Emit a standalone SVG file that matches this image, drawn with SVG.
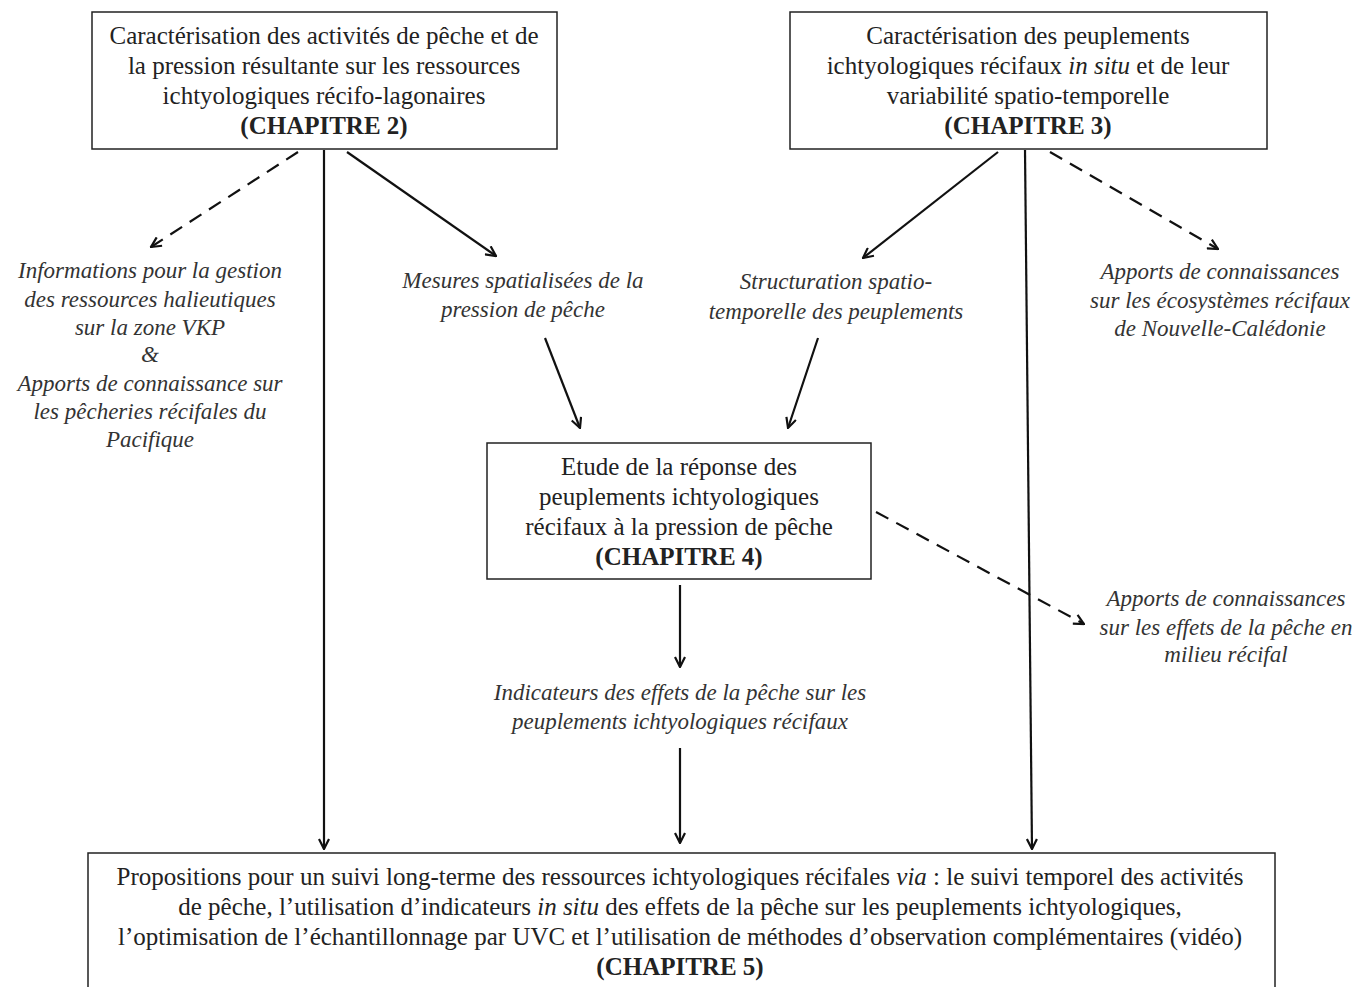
<svg xmlns="http://www.w3.org/2000/svg" width="1355" height="987" viewBox="0 0 1355 987">
<style>
.box{fill:#fff;stroke:#222;stroke-width:1.5}
.t{font-family:"Liberation Serif","Times New Roman",serif;font-size:25px;fill:#222;text-anchor:middle}
.b{font-weight:bold}
.i{font-family:"Liberation Serif","Times New Roman",serif;font-style:italic;font-size:23px;fill:#333;text-anchor:middle}
.c{stroke:#111;stroke-width:2.2;fill:none;marker-end:url(#ah)}
.d{stroke-dasharray:14 9}
</style>
<defs>
<marker id="ah" viewBox="0 0 12 12" refX="11" refY="6" markerWidth="12" markerHeight="12" markerUnits="userSpaceOnUse" orient="auto">
<path d="M1,1 L11,6 L1,11" fill="none" stroke="#111" stroke-width="2.2"/>
</marker>
</defs>
<rect width="1355" height="987" fill="#fff"/>
<g id="connectors">
<line class="c d" x1="298" y1="152" x2="151" y2="247"/>
<line class="c" x1="324" y1="150" x2="324" y2="849"/>
<line class="c" x1="347" y1="152" x2="496" y2="256"/>
<line class="c" x1="998" y1="152" x2="863" y2="258"/>
<line class="c" x1="1025" y1="150" x2="1032" y2="849"/>
<line class="c d" x1="1050" y1="152" x2="1218" y2="249"/>
<line class="c" x1="545" y1="338" x2="580" y2="428"/>
<line class="c" x1="818" y1="338" x2="788" y2="428"/>
<line class="c" x1="680" y1="585" x2="680" y2="667"/>
<line class="c d" x1="876" y1="512" x2="1084" y2="624"/>
<line class="c" x1="680" y1="748" x2="680" y2="843"/>
</g>
<g id="ch2">
<rect class="box" x="92" y="12" width="465" height="137"/>
<text class="t" x="324" y="44">Caractérisation des activités de pêche et de</text>
<text class="t" x="324" y="74">la pression résultante sur les ressources</text>
<text class="t" x="324" y="104">ichtyologiques récifo-lagonaires</text>
<text class="t b" x="324" y="134">(CHAPITRE 2)</text>
</g>
<g id="ch3">
<rect class="box" x="790" y="12" width="477" height="137"/>
<text class="t" x="1028" y="44">Caractérisation des peuplements</text>
<text class="t" x="1028" y="74">ichtyologiques récifaux <tspan font-style="italic">in situ</tspan> et de leur</text>
<text class="t" x="1028" y="104">variabilité spatio-temporelle</text>
<text class="t b" x="1028" y="134">(CHAPITRE 3)</text>
</g>
<g id="ch4">
<rect class="box" x="487" y="443" width="384" height="136"/>
<text class="t" x="679" y="475">Etude de la réponse des</text>
<text class="t" x="679" y="505">peuplements ichtyologiques</text>
<text class="t" x="679" y="535">récifaux à la pression de pêche</text>
<text class="t b" x="679" y="565">(CHAPITRE 4)</text>
</g>
<g id="ch5">
<rect class="box" x="88" y="853" width="1187" height="145"/>
<text class="t" x="680" y="885">Propositions pour un suivi long-terme des ressources ichtyologiques récifales <tspan font-style="italic">via</tspan> : le suivi temporel des activités</text>
<text class="t" x="680" y="915">de pêche, l’utilisation d’indicateurs <tspan font-style="italic">in situ</tspan> des effets de la pêche sur les peuplements ichtyologiques,</text>
<text class="t" x="680" y="945">l’optimisation de l’échantillonnage par UVC et l’utilisation de méthodes d’observation complémentaires (vidéo)</text>
<text class="t b" x="680" y="975">(CHAPITRE 5)</text>
</g>
<g id="info">
<text class="i" x="150" y="278">Informations pour la gestion</text>
<text class="i" x="150" y="307">des ressources  halieutiques</text>
<text class="i" x="150" y="335">sur la zone VKP</text>
<text class="i" x="150" y="362">&amp;</text>
<text class="i" x="150" y="391">Apports de connaissance sur</text>
<text class="i" x="150" y="419">les pêcheries récifales  du</text>
<text class="i" x="150" y="447">Pacifique</text>
</g>
<g id="mesures">
<text class="i" x="523" y="288">Mesures spatialisées  de la</text>
<text class="i" x="523" y="317">pression de pêche</text>
</g>
<g id="structuration">
<text class="i" x="836" y="289">Structuration spatio-</text>
<text class="i" x="836" y="319">temporelle des peuplements</text>
</g>
<g id="apports1">
<text class="i" x="1220" y="279">Apports de connaissances</text>
<text class="i" x="1220" y="308">sur les écosystèmes récifaux</text>
<text class="i" x="1220" y="336">de Nouvelle-Calédonie</text>
</g>
<g id="apports2">
<text class="i" x="1226" y="606">Apports de connaissances</text>
<text class="i" x="1226" y="635">sur les effets de la pêche en</text>
<text class="i" x="1226" y="662">milieu récifal</text>
</g>
<g id="indicateurs">
<text class="i" x="680" y="700">Indicateurs des effets de la pêche sur les</text>
<text class="i" x="680" y="729">peuplements ichtyologiques  récifaux</text>
</g>
</svg>
